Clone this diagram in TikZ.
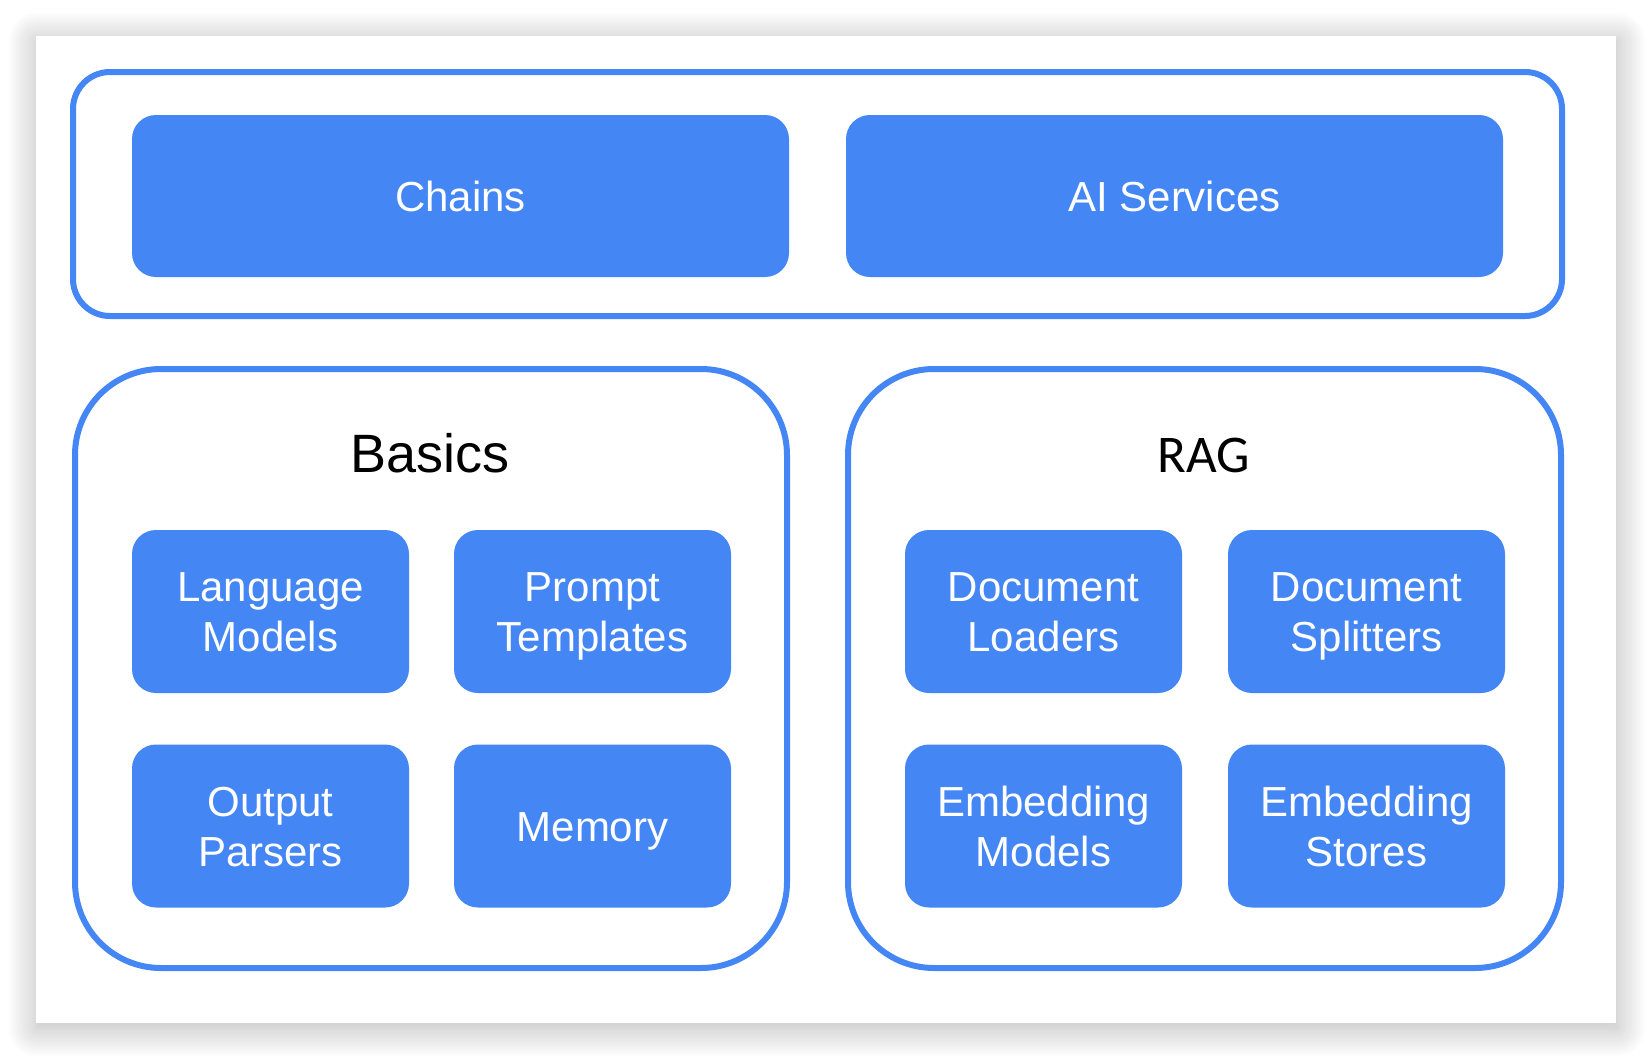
\documentclass[tikz,border=0pt]{standalone}
\usepackage{fontspec}
\setmainfont{Liberation Sans}
\newfontfamily\ragfont{Carlito}
\usetikzlibrary{shadows.blur}
\definecolor{gblue}{HTML}{4486F4}
\newcommand{\tilelines}[1]{\rule{0pt}{0.94em}#1\vphantom{g}}
\tikzset{
  panel/.style={draw=gblue, line width=6pt, rounded corners=#1, inner sep=0pt},
  tile/.style={fill=gblue, text=white, rounded corners=24pt, align=center, inner sep=0pt,
    minimum width=277pt, minimum height=163pt, font=\fontsize{42}{50}\selectfont},
  widetile/.style={tile, minimum width=657pt, minimum height=162pt},
}
\begin{document}
\begin{tikzpicture}[x=1pt, y=-1pt]
    \useasboundingbox (0, 0) rectangle (1652, 1060);
    \fill[white, blur shadow={shadow xshift=1pt, shadow yshift=-5pt, shadow blur radius=30pt,
      shadow blur steps=40, shadow opacity=30}]
      (36, 36) rectangle (1616, 1023);

    \node[panel=37pt, minimum width=1489pt, minimum height=244pt] (top) at (817.5, 194){};
      \node[widetile] (chains) at (460.5, 196){\tilelines{Chains}};
      \node[widetile] (ai) at (1174.5, 196){\tilelines{AI Services}};

    \node[panel=86pt, minimum width=712pt, minimum height=599pt] (basics) at (431, 668.5){};
      \node[anchor=base, font=\fontsize{54}{60}\selectfont] (basicstitle) at (430, 472){Basics};
      \node[tile] (lm) at (270.5, 611.5){\tilelines{Language\\Models}};
      \node[tile] (pt) at (592.5, 611.5){\tilelines{Prompt\\Templates}};
      \node[tile] (op) at (270.5, 826){\tilelines{Output\\Parsers}};
      \node[tile] (mem) at (592.5, 826){\tilelines{Memory}};

    \node[panel=86pt, minimum width=713pt, minimum height=599pt] (rag) at (1204.5, 668.5){};
      \node[anchor=base, font=\ragfont\fontsize{53}{60}\selectfont] (ragtitle) at (1204, 472){RAG};
      \node[tile] (dl) at (1043.5, 611.5){\tilelines{Document\\Loaders}};
      \node[tile] (ds) at (1366.5, 611.5){\tilelines{Document\\Splitters}};
      \node[tile] (em) at (1043.5, 826){\tilelines{Embedding\\Models}};
      \node[tile] (es) at (1366.5, 826){\tilelines{Embedding\\Stores}};
  \end{tikzpicture}
\end{document}
